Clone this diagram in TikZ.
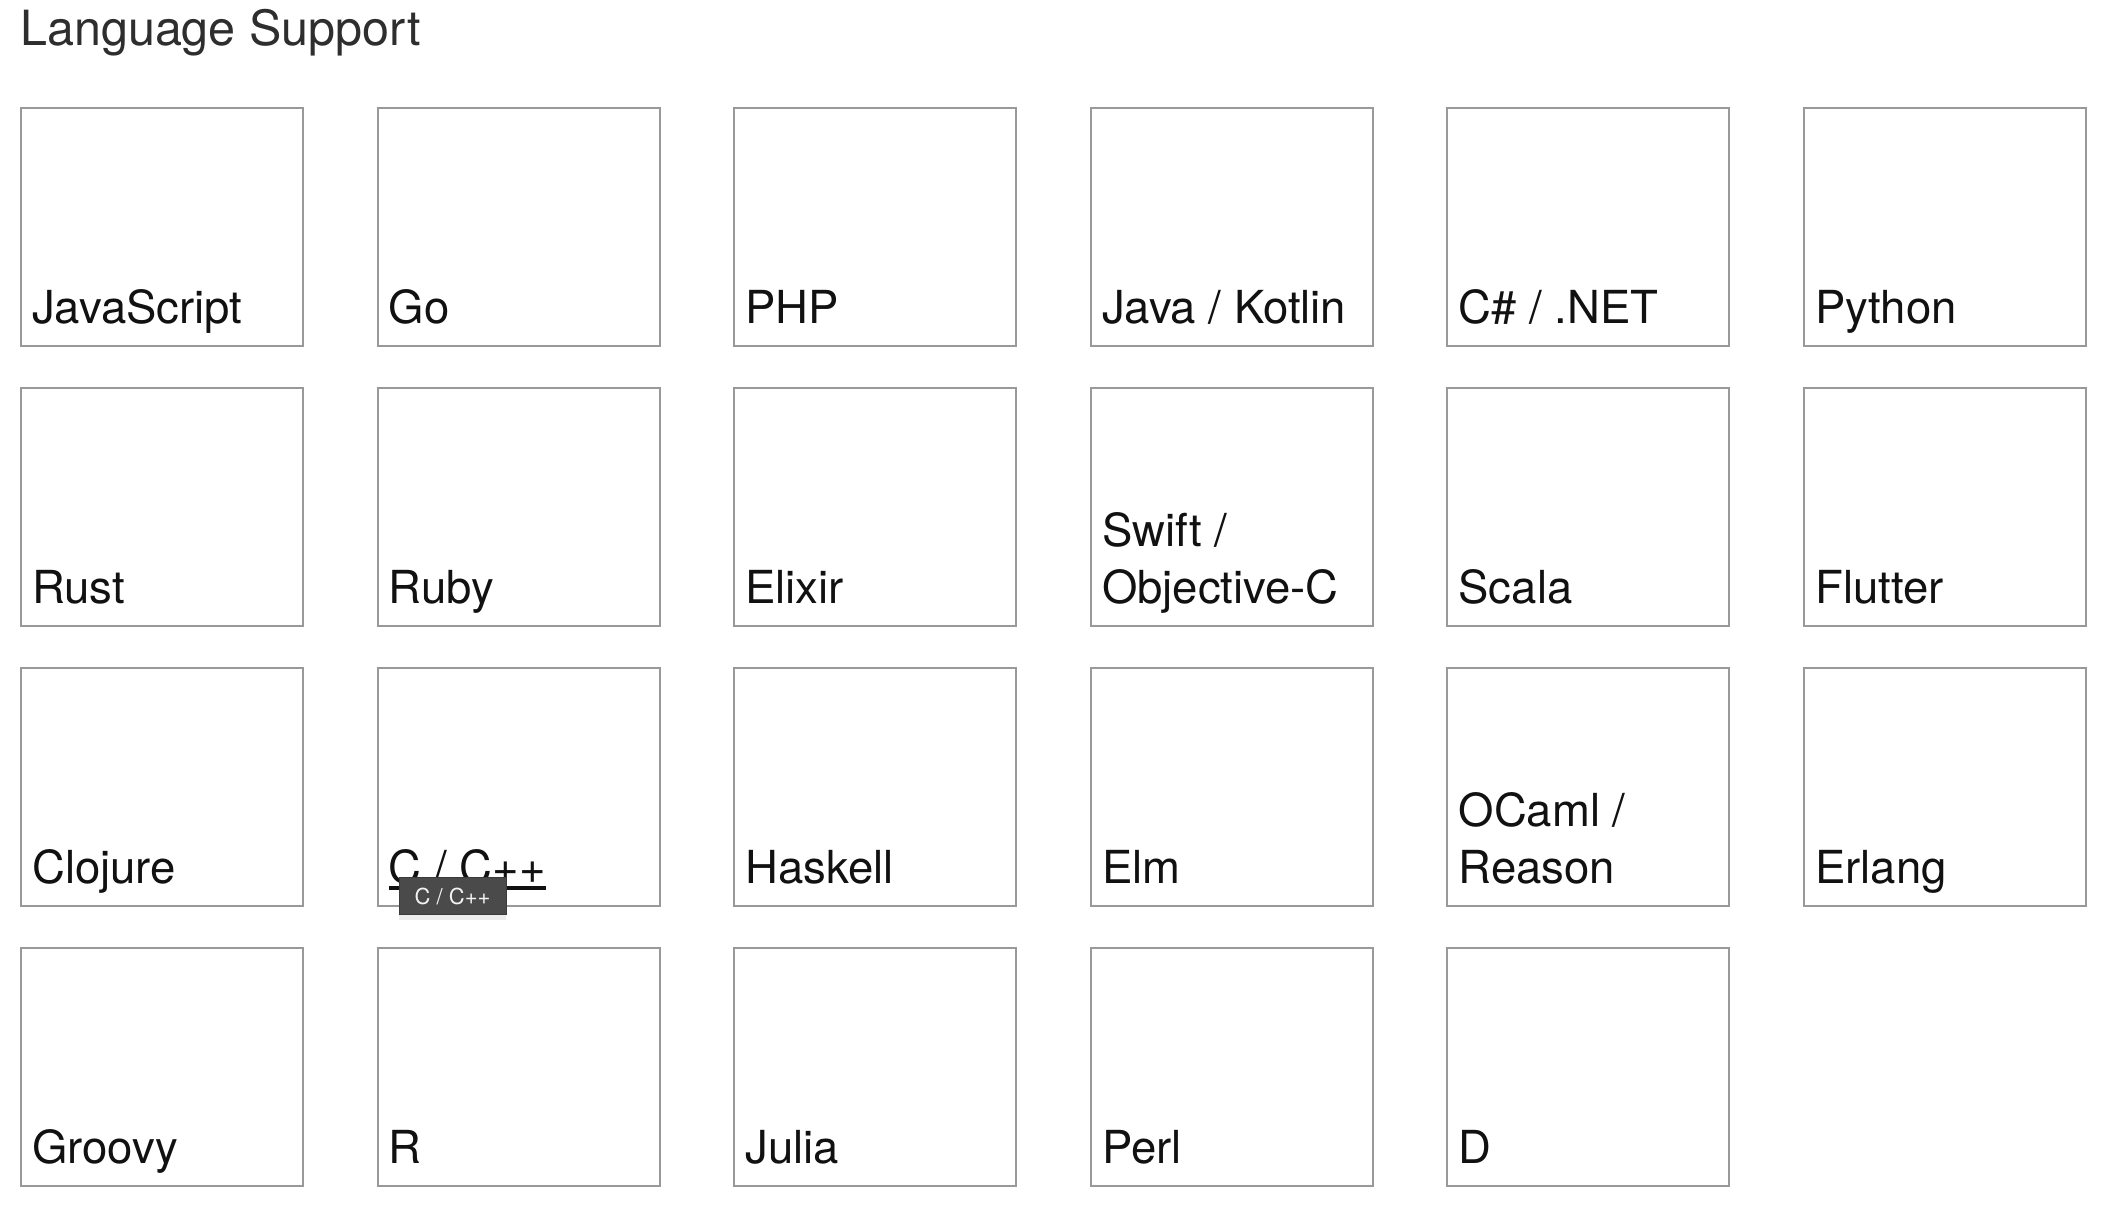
\documentclass[tikz,border=0pt]{standalone}
\usepackage{fontspec}
\setmainfont{TeX Gyre Heros}
\usetikzlibrary{shadows}
\definecolor{border}{HTML}{999999}
\definecolor{ink}{HTML}{111111}
\definecolor{titleink}{HTML}{2E2E2E}
\definecolor{tipbg}{HTML}{4A4A4A}
\definecolor{tipink}{HTML}{F2F2F2}
\tikzset{
  langbox/.style={draw=border, line width=2pt, minimum width=282pt, minimum height=238pt, inner sep=0pt, anchor=north west},
  lbl/.style={anchor=base west, inner sep=0pt, text=ink, font=\fontsize{45.5}{54}\selectfont},
  ttl/.style={anchor=base west, inner sep=0pt, text=titleink, font=\fontsize{48.5}{56}\selectfont},
  tip/.style={fill=tipbg, draw=tipbg!80!black, line width=0.8pt, inner sep=0pt, minimum width=107pt, minimum height=37pt, text=tipink, font=\fontsize{22}{26}\selectfont, drop shadow={opacity=0.15, shadow xshift=0pt, shadow yshift=-5pt}}
}
\begin{document}
\begin{tikzpicture}[x=1pt,y=-1pt]
\useasboundingbox (0,0) rectangle (2108,1224);
\fill[white] (0,0) rectangle (2108,1224);
\node[ttl] (title) at (20,45) {Language Support};
% boxes
\foreach \r in {0,...,3}{
  \foreach \c in {0,...,5}{
    \pgfmathtruncatemacro{\skipit}{(\r==3 && \c==5)?1:0}
    \ifnum\skipit=0
      \node[langbox] (b\r\c) at ({20+356.6*\c},{107+280*\r}) {};
    \fi
  }
}
% labels
\node[lbl] (l00) at ([xshift=12pt,yshift=24pt]b00.south west) {JavaScript};
\node[lbl] (l01) at ([xshift=12pt,yshift=24pt]b01.south west) {Go};
\node[lbl] (l02) at ([xshift=12pt,yshift=24pt]b02.south west) {PHP};
\node[lbl] (l03) at ([xshift=12pt,yshift=24pt]b03.south west) {Java / Kotlin};
\node[lbl] (l04) at ([xshift=12pt,yshift=24pt]b04.south west) {C\# / .NET};
\node[lbl] (l05) at ([xshift=12pt,yshift=24pt]b05.south west) {Python};
\node[lbl] (l10) at ([xshift=12pt,yshift=24pt]b10.south west) {Rust};
\node[lbl] (l11) at ([xshift=12pt,yshift=24pt]b11.south west) {Ruby};
\node[lbl] (l12) at ([xshift=12pt,yshift=24pt]b12.south west) {Elixir};
\node[lbl] (l13) at ([xshift=12pt,yshift=24pt]b13.south west) {Objective-C};
\node[lbl] (l13a) at ([xshift=12pt,yshift=81pt]b13.south west) {Swift /};
\node[lbl] (l14) at ([xshift=12pt,yshift=24pt]b14.south west) {Scala};
\node[lbl] (l15) at ([xshift=12pt,yshift=24pt]b15.south west) {Flutter};
\node[lbl] (l20) at ([xshift=12pt,yshift=24pt]b20.south west) {Clojure};
\node[lbl] (l21) at ([xshift=12pt,yshift=24pt]b21.south west) {C / C++};
\node[lbl] (l22) at ([xshift=12pt,yshift=24pt]b22.south west) {Haskell};
\node[lbl] (l23) at ([xshift=12pt,yshift=24pt]b23.south west) {Elm};
\node[lbl] (l24) at ([xshift=12pt,yshift=24pt]b24.south west) {Reason};
\node[lbl] (l24a) at ([xshift=12pt,yshift=81pt]b24.south west) {OCaml /};
\node[lbl] (l25) at ([xshift=12pt,yshift=24pt]b25.south west) {Erlang};
\node[lbl] (l30) at ([xshift=12pt,yshift=24pt]b30.south west) {Groovy};
\node[lbl] (l31) at ([xshift=12pt,yshift=24pt]b31.south west) {R};
\node[lbl] (l32) at ([xshift=12pt,yshift=24pt]b32.south west) {Julia};
\node[lbl] (l33) at ([xshift=12pt,yshift=24pt]b33.south west) {Perl};
\node[lbl] (l34) at ([xshift=12pt,yshift=24pt]b34.south west) {D};
% hover underline and tooltip
\draw[ink, line width=4pt] ([yshift=-5pt]l21.base west) -- ([yshift=-5pt]l21.base east);
\node[tip] (tooltip) at ([xshift=76pt,yshift=11pt]b21.south west) {C / C++};
\end{tikzpicture}
\end{document}
